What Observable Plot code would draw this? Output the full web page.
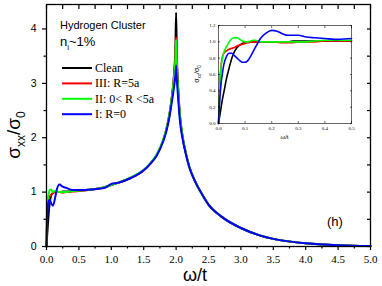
<!DOCTYPE html>
<html>
<head>
<meta charset="utf-8">
<script src="https://cdn.jsdelivr.net/npm/d3@7"></script>
<script src="https://cdn.jsdelivr.net/npm/@observablehq/plot@0.6"></script>
<style>
  html, body { margin: 0; padding: 0; background: white; }
  #wrap { position: relative; width: 382px; height: 286px; overflow: hidden; }
  #inset { position: absolute; left: 190px; top: 20px; }
</style>
</head>
<body>
<div id="wrap"><div id="main"></div><div id="inset"></div></div>
<script>
// ---------- data ----------
const seriesNames = ["Clean", "III: R=5a", "II: 0< R <5a", "I: R=0"];
const seriesColors = ["#000000", "#ff0000", "#00ff00", "#0000ff"];

const omegaMain = [0, 0.01, 0.02, 0.03, 0.05, 0.07, 0.1, 0.13, 0.16, 0.2, 0.25, 0.3, 0.4, 0.5, 0.7, 0.9, 1.0, 1.1, 1.3, 1.5, 1.6, 1.7, 1.8, 1.85, 1.9, 1.94, 1.97, 1.99, 2.0, 2.01, 2.03, 2.06, 2.1, 2.15, 2.2, 2.3, 2.4, 2.5, 2.7, 3.0, 3.3, 3.5, 3.8, 4.0, 4.5, 5.0];
const cleanMain = [0, 0.2, 0.38, 0.55, 0.8, 0.93, 0.99, 1.0, 1.0, 1.0, 1.01, 1.01, 1.02, 1.03, 1.05, 1.09, 1.13, 1.17, 1.26, 1.4, 1.52, 1.68, 1.95, 2.15, 2.45, 2.8, 3.2, 3.7, 4.3, 3.6, 2.95, 2.4, 2.02, 1.72, 1.48, 1.18, 0.96, 0.77, 0.55, 0.34, 0.2, 0.14, 0.085, 0.06, 0.025, 0.01];
const r5aMain = [0, 0.72, 0.86, 0.89, 0.92, 0.95, 0.98, 1.0, 1.0, 1.0, 0.99, 1.0, 1.01, 1.02, 1.05, 1.09, 1.13, 1.17, 1.26, 1.4, 1.52, 1.68, 1.95, 2.15, 2.45, 2.8, 3.15, 3.5, 3.85, 3.4, 2.9, 2.4, 2.02, 1.72, 1.48, 1.18, 0.96, 0.77, 0.55, 0.34, 0.2, 0.14, 0.085, 0.06, 0.025, 0.01];
const r0to5Main = [0, 0.7, 0.87, 0.94, 1.04, 1.05, 1.0, 1.02, 1.0, 1.0, 1.0, 1.0, 1.02, 1.03, 1.05, 1.09, 1.13, 1.17, 1.27, 1.41, 1.53, 1.69, 1.96, 2.16, 2.45, 2.8, 3.12, 3.45, 3.8, 3.35, 2.9, 2.4, 2.02, 1.72, 1.48, 1.18, 0.96, 0.77, 0.55, 0.34, 0.2, 0.14, 0.085, 0.06, 0.025, 0.01];
const r0Main = [0, 0.5, 0.72, 0.82, 0.86, 0.8, 0.75, 0.88, 1.05, 1.14, 1.1, 1.08, 1.04, 1.04, 1.05, 1.08, 1.15, 1.17, 1.26, 1.4, 1.52, 1.67, 1.93, 2.12, 2.4, 2.7, 2.95, 3.15, 3.33, 3.1, 2.75, 2.3, 1.98, 1.7, 1.47, 1.18, 0.96, 0.77, 0.55, 0.34, 0.2, 0.14, 0.085, 0.06, 0.025, 0.01];

const omegaInset = [0, 0.005, 0.01, 0.015, 0.02, 0.03, 0.04, 0.05, 0.06, 0.07, 0.08, 0.09, 0.1, 0.11, 0.12, 0.13, 0.14, 0.15, 0.16, 0.18, 0.2, 0.22, 0.24, 0.26, 0.28, 0.3, 0.33, 0.36, 0.4, 0.45, 0.5];
const cleanInset = [0, 0.1, 0.2, 0.3, 0.38, 0.55, 0.68, 0.8, 0.88, 0.93, 0.96, 0.98, 0.99, 1.0, 1.0, 1.0, 1.0, 1.0, 1.0, 1.0, 1.0, 1.0, 1.0, 1.0, 1.01, 1.01, 1.01, 1.01, 1.01, 1.01, 1.01];
const r5aInset = [0, 0.5, 0.72, 0.82, 0.86, 0.89, 0.91, 0.92, 0.93, 0.95, 0.96, 0.97, 0.98, 0.99, 0.995, 1.0, 1.0, 1.0, 1.0, 1.0, 1.0, 0.995, 0.99, 0.99, 0.99, 1.0, 1.0, 1.0, 1.01, 1.01, 1.01];
const r0to5Inset = [0, 0.45, 0.7, 0.8, 0.87, 0.94, 1.0, 1.04, 1.05, 1.05, 1.03, 1.01, 1.0, 1.0, 1.01, 1.02, 1.02, 1.01, 1.0, 1.0, 1.0, 1.0, 1.0, 1.0, 1.0, 1.0, 1.0, 1.01, 1.02, 1.02, 1.02];
const r0Inset = [0, 0.3, 0.5, 0.62, 0.72, 0.82, 0.86, 0.86, 0.83, 0.8, 0.77, 0.75, 0.75, 0.77, 0.82, 0.88, 0.94, 1.0, 1.05, 1.11, 1.14, 1.13, 1.1, 1.08, 1.08, 1.08, 1.06, 1.05, 1.04, 1.03, 1.04];

const xMajorMain = [0, 0.5, 1.0, 1.5, 2.0, 2.5, 3.0, 3.5, 4.0, 4.5, 5.0];
const xMinorMain = [0.25, 0.75, 1.25, 1.75, 2.25, 2.75, 3.25, 3.75, 4.25, 4.75];
const yMajorMain = [0, 1, 2, 3, 4];
const yMinorMain = [0.5, 1.5, 2.5, 3.5];
const xMajorInset = [0, 0.1, 0.2, 0.3, 0.4, 0.5];
const yMajorInset = [0, 0.2, 0.4, 0.6, 0.8, 1.0, 1.2];

const titleText = "Hydrogen Cluster";
const panelTag = "(h)";

// ---------- tables ----------
function build(omega, lists) {
  const rows = [];
  lists.forEach((vals, i) => vals.forEach((v, j) => rows.push({omega: omega[j], sigma: v, series: seriesNames[i]})));
  return rows;
}
const mainRows = build(omegaMain, [cleanMain, r5aMain, r0to5Main, r0Main]);
const insetRows = build(omegaInset, [cleanInset, r5aInset, r0to5Inset, r0Inset]);

const serif = "'Liberation Serif', 'Times New Roman', serif";
const sans = "'Liberation Sans', Arial, sans-serif";
const blank = () => "";

// ---------- main plot ----------
const main = Plot.plot({
  width: 382, height: 286,
  marginLeft: 46, marginRight: 12, marginTop: 4, marginBottom: 40,
  style: {background: "white", overflow: "visible", color: "black"},
  x: {domain: [0, 5]},
  y: {domain: [0, 4.45]},
  color: {domain: seriesNames, range: seriesColors},
  marks: [
    Plot.line(mainRows, {x: "omega", y: "sigma", z: "series", stroke: "series", strokeWidth: 2, curve: "monotone-x"}),
    Plot.frame({stroke: "black", strokeWidth: 1.3}),
    Plot.axisX({ticks: xMajorMain, tickSize: 4, tickPadding: 5, tickFormat: d3.format(".1f"), fontFamily: serif, fontSize: 11, label: null, strokeWidth: 1.2}),
    Plot.axisX({ticks: xMinorMain, tickSize: 2.5, tickFormat: blank, label: null, strokeWidth: 1.2}),
    Plot.axisX({anchor: "top", ticks: xMajorMain.concat(xMinorMain), tickSize: -4, tickFormat: blank, label: null, strokeWidth: 1.2}),
    Plot.axisY({ticks: yMajorMain, tickSize: 4, tickPadding: 6, tickFormat: d3.format("d"), fontFamily: sans, fontSize: 10.5, label: null, strokeWidth: 1.2}),
    Plot.axisY({ticks: yMinorMain, tickSize: 2.5, tickFormat: blank, label: null, strokeWidth: 1.2}),
    Plot.axisY({anchor: "right", ticks: yMajorMain.concat(yMinorMain), tickSize: -4, tickFormat: blank, label: null, strokeWidth: 1.2})
  ]
});
document.getElementById("main").appendChild(main);

const svg = d3.select(main);
// axis labels
const yl = svg.append("text")
  .attr("transform", "translate(20,135) rotate(-90)")
  .attr("text-anchor", "middle")
  .attr("font-family", sans).attr("font-size", 19).attr("fill", "black");
yl.append("tspan").text("σ");
yl.append("tspan").attr("dy", 5).attr("font-size", 12).text("xx");
yl.append("tspan").attr("dy", -5).text("/σ");
yl.append("tspan").attr("dy", 5).attr("font-size", 12).text("0");

svg.append("text").attr("x", 195).attr("y", 281).attr("text-anchor", "middle")
  .attr("font-family", sans).attr("font-size", 18).attr("fill", "black").text("ω/t");

// annotations
svg.append("text").attr("x", 60).attr("y", 29).attr("text-anchor", "start").attr("font-family", sans).attr("font-size", 11).attr("fill", "black").text(titleText);
const ni = svg.append("text").attr("x", 60).attr("y", 46).attr("text-anchor", "start").attr("font-family", sans).attr("font-size", 13).attr("fill", "black");
ni.append("tspan").text("n");
ni.append("tspan").attr("dy", 4).attr("font-size", 8).text("i");
ni.append("tspan").attr("dy", -4).text("~1%");
svg.append("text").attr("x", 327).attr("y", 226).attr("text-anchor", "start").attr("font-family", sans).attr("font-size", 13).attr("fill", "black").text(panelTag);

// legend
const leg = svg.append("g");
seriesNames.forEach((name, i) => {
  const y = 68 + 15.4 * i;
  leg.append("line").attr("x1", 62).attr("x2", 92).attr("y1", y).attr("y2", y)
    .attr("stroke", seriesColors[i]).attr("stroke-width", 2);
  leg.append("text").attr("x", 95).attr("y", y + 4).attr("text-anchor", "start").attr("font-family", serif).attr("font-size", 12)
    .attr("fill", "black").text(name);
});

// ---------- inset ----------
const inset = Plot.plot({
  width: 165, height: 125,
  marginLeft: 28, marginRight: 4, marginTop: 5, marginBottom: 22,
  style: {background: "white", overflow: "visible", color: "black"},
  x: {domain: [0, 0.5]},
  y: {domain: [0, 1.2]},
  color: {domain: seriesNames, range: seriesColors},
  marks: [
    Plot.line(insetRows, {x: "omega", y: "sigma", z: "series", stroke: "series", strokeWidth: 1.6, curve: "monotone-x"}),
    Plot.frame({stroke: "black", strokeWidth: 0.6}),
    Plot.axisX({ticks: xMajorInset, tickSize: -2, tickPadding: 5, tickFormat: d3.format(".1f"), fontFamily: serif, fontSize: 5, label: null, strokeWidth: 0.6}),
    Plot.axisX({anchor: "top", ticks: xMajorInset, tickSize: -2, tickFormat: blank, label: null, strokeWidth: 0.6}),
    Plot.axisY({ticks: yMajorInset, tickSize: -2, tickPadding: 5, tickFormat: d3.format(".1f"), fontFamily: serif, fontSize: 5, label: null, strokeWidth: 0.6}),
    Plot.axisY({anchor: "right", ticks: yMajorInset, tickSize: -2, tickFormat: blank, label: null, strokeWidth: 0.6})
  ]
});
document.getElementById("inset").appendChild(inset);
const isvg = d3.select(inset);
const iyl = isvg.append("text")
  .attr("transform", "translate(9,54) rotate(-90)")
  .attr("text-anchor", "middle")
  .attr("font-family", sans).attr("font-size", 7).attr("fill", "black");
iyl.append("tspan").text("σ");
iyl.append("tspan").attr("dy", 2).attr("font-size", 4.5).text("xx");
iyl.append("tspan").attr("dy", -2).text("/σ");
iyl.append("tspan").attr("dy", 2).attr("font-size", 4.5).text("0");
isvg.append("text").attr("x", 94.5).attr("y", 119).attr("text-anchor", "middle")
  .attr("font-family", sans).attr("font-size", 6).attr("fill", "black").text("ω/t");
</script>
</body>
</html>
